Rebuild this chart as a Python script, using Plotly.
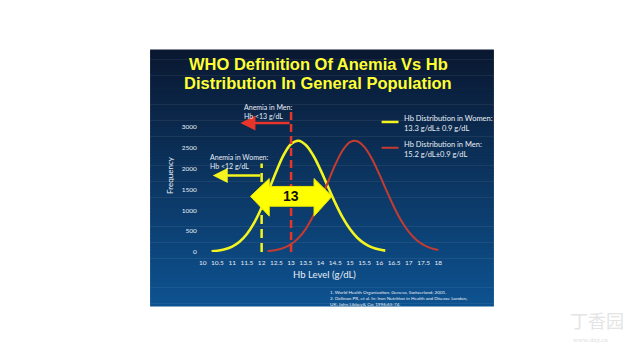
import plotly.graph_objects as go

# ---------------- data ----------------
women_hb = [10.3, 10.5, 10.75, 11, 11.25, 11.5, 11.75, 12, 12.25, 12.5, 12.75, 13, 13.25,
            13.5, 13.75, 14, 14.25, 14.5, 14.75, 15, 15.25, 15.5, 15.75, 16, 16.2]
women_freq = [14, 28, 62, 127, 243, 430, 703, 1065, 1494, 1938, 2330, 2592, 2669,
              2567, 2320, 1970, 1571, 1177, 828, 548, 340, 198, 109, 56, 31]

men_hb = [12.2, 12.5, 12.75, 13, 13.25, 13.5, 13.75, 14, 14.25, 14.5, 14.75, 15, 15.25,
          15.5, 15.75, 16, 16.25, 16.5, 16.75, 17, 17.25, 17.5, 17.75, 18]
men_freq = [17, 46, 96, 185, 331, 553, 860, 1243, 1672, 2091, 2434, 2635, 2657,
            2510, 2230, 1860, 1458, 1073, 742, 482, 294, 169, 91, 46]

x_ticks = [10, 10.5, 11, 11.5, 12, 12.5, 13, 13.5, 14, 14.5, 15, 15.5, 16, 16.5, 17, 17.5, 18]
y_ticks = [0, 500, 1000, 1500, 2000, 2500, 3000]

men_cutoff = 13
women_cutoff = 12
men_line_top = 3357
women_line_top = 2120
men_arrow_tip, men_arrow_y = 11.28, 3095
women_arrow_tip, women_arrow_y = 10.34, 1833
# big double arrow "13"
big_left, big_right = 11.62, 14.39
big_head_l, big_head_r = 12.26, 13.78
big_head_top, big_head_bot = 1762, 857
big_shaft_top, big_shaft_bot = 1571, 1095
big_mid = 1333

W, H = 640, 360
def px(x): return x / W
def py(y): return 1 - y / H

fig = go.Figure()

# slide background gradient (stripes)
shapes = []
top_c = (10, 24, 49)
bot_c = (13, 82, 144)
S_L, S_R, S_T, S_B = 147, 493, 50, 309
n = 80
for i in range(n):
    t = i / (n - 1)
    c = tuple(int(round(top_c[k] + (bot_c[k] - top_c[k]) * t)) for k in range(3))
    y0 = S_T + (S_B - S_T) * i / n
    y1 = S_T + (S_B - S_T) * (i + 1) / n + 0.6
    shapes.append(dict(type="rect", xref="paper", yref="paper", layer="below",
                       x0=px(S_L), x1=px(S_R), y0=py(min(y1, S_B)), y1=py(y0),
                       line=dict(width=0), fillcolor="rgb(%d,%d,%d)" % c))

YEL = "#f4f41e"
RED = "#c63b30"

fig.add_trace(go.Scatter(x=women_hb, y=women_freq, mode="lines", line=dict(color=YEL, width=2.6, shape="spline"),
                         cliponaxis=False, showlegend=False, hoverinfo="skip"))
fig.add_trace(go.Scatter(x=men_hb, y=men_freq, mode="lines", line=dict(color=RED, width=2, shape="spline"),
                         cliponaxis=False, showlegend=False, hoverinfo="skip"))

# dashed cutoff lines
shapes.append(dict(type="line", xref="x", yref="y", x0=men_cutoff, x1=men_cutoff, y0=0, y1=men_line_top,
                   line=dict(color="#e8352a", width=2.5, dash="8px,4px"), layer="above"))
shapes.append(dict(type="line", xref="x", yref="y", x0=women_cutoff, x1=women_cutoff, y0=0, y1=women_line_top,
                   line=dict(color=YEL, width=2.5, dash="9px,5px"), layer="above"))

# big double arrow
path = ("M {l},{m} L {hl},{ht} L {hl},{st} L {hr},{st} L {hr},{ht} L {r},{m} "
        "L {hr},{hb} L {hr},{sb} L {hl},{sb} L {hl},{hb} Z").format(
    l=big_left, m=big_mid, hl=big_head_l, ht=big_head_top, st=big_shaft_top,
    hr=big_head_r, r=big_right, hb=big_head_bot, sb=big_shaft_bot)
shapes.append(dict(type="path", xref="x", yref="y", path=path, fillcolor="#ffff00",
                   line=dict(color="#e6e600", width=1), layer="above"))

fig.update_layout(shapes=shapes)

ann = []
TXT = "#e9eef5"
FONT = "Lato"
ann.append(dict(x=men_cutoff, y=big_mid, xref="x", yref="y", text="<b>13</b>", showarrow=False,
                font=dict(family="Liberation Sans", size=14, color="#111111")))
# arrows
ann.append(dict(x=men_arrow_tip, y=men_arrow_y, ax=men_cutoff, ay=men_arrow_y, xref="x", yref="y",
                axref="x", ayref="y", text="", showarrow=True, arrowhead=2, arrowsize=1.2,
                arrowwidth=2.5, arrowcolor="#e8352a"))
ann.append(dict(x=women_arrow_tip, y=women_arrow_y, ax=women_cutoff, ay=women_arrow_y, xref="x", yref="y",
                axref="x", ayref="y", text="", showarrow=True, arrowhead=2, arrowsize=1.2,
                arrowwidth=2.5, arrowcolor=YEL))
# arrow labels
ann.append(dict(x=px(239), y=py(112), xref="paper", yref="paper", xanchor="left", yanchor="middle",
                text="Anemia in Men:<br>Hb <13 g/dL", showarrow=False, align="left",
                font=dict(family=FONT, size=7, color=TXT)))
ann.append(dict(x=px(205), y=py(163), xref="paper", yref="paper", xanchor="left", yanchor="middle",
                text="Anemia in Women:<br>Hb <12 g/dL", showarrow=False, align="left",
                font=dict(family=FONT, size=7, color=TXT)))
# legend
fig.add_shape(type="line", xref="paper", yref="paper", x0=px(380), x1=px(397), y0=py(123), y1=py(123),
              line=dict(color=YEL, width=2.5))
fig.add_shape(type="line", xref="paper", yref="paper", x0=px(380), x1=px(397), y0=py(149), y1=py(149),
              line=dict(color=RED, width=2))
ann.append(dict(x=px(401), y=py(125), xref="paper", yref="paper", xanchor="left", yanchor="middle",
                text="Hb Distribution in Women:<br>13.3 g/dL± 0.9 g/dL", showarrow=False, align="left",
                font=dict(family=FONT, size=7.5, color=TXT)))
ann.append(dict(x=px(401), y=py(151), xref="paper", yref="paper", xanchor="left", yanchor="middle",
                text="Hb Distribution in Men:<br>15.2 g/dL±0.9 g/dL", showarrow=False, align="left",
                font=dict(family=FONT, size=7.5, color=TXT)))
# title
ann.append(dict(x=px(316), y=py(65), xref="paper", yref="paper", xanchor="center", yanchor="middle",
                text="<b>WHO Definition Of Anemia Vs Hb</b>", showarrow=False,
                font=dict(family="Liberation Sans", size=16.5, color="#ffff33")))
ann.append(dict(x=px(316), y=py(84), xref="paper", yref="paper", xanchor="center", yanchor="middle",
                text="<b>Distribution In General Population</b>", showarrow=False,
                font=dict(family="Liberation Sans", size=16.5, color="#ffff33")))
# references
ann.append(dict(x=px(326), y=py(300), xref="paper", yref="paper", xanchor="left", yanchor="middle",
                text="1. World Health Organization. Geneva, Switzerland; 2001.<br>"
                     "2. Dallman PR, et al. In: Iron Nutrition in Health and Disease London,<br>"
                     "UK: John Libbey& Co; 1996:65-74.",
                showarrow=False, align="left", font=dict(family=FONT, size=4.6, color=TXT)))
# watermark
ann.append(dict(x=px(597), y=py(323), xref="paper", yref="paper", xanchor="center", yanchor="middle",
                text="丁香园", showarrow=False, font=dict(family="Noto Sans CJK SC", size=18, color="#e4e4e4")))
ann.append(dict(x=px(590), y=py(343), xref="paper", yref="paper", xanchor="center", yanchor="middle",
                text="www.dxy.cn", showarrow=False, font=dict(family="Liberation Serif", size=7, color="#dcdcdc")))

fig.update_layout(
    annotations=ann,
    width=W, height=H,
    margin=dict(l=0, r=0, t=0, b=0),
    paper_bgcolor="white",
    plot_bgcolor="rgba(0,0,0,0)",
    showlegend=False,
    xaxis=dict(domain=[px(200), px(445)], range=[10, 10 + 245 / 29.625],
               tickvals=x_ticks, ticktext=[("%g" % v) for v in x_ticks], showgrid=False, zeroline=False,
               showline=False, ticks="", ticklabelstandoff=6,
               tickfont=dict(family=FONT, size=6.5, color=TXT),
               title=dict(text="Hb Level (g/dL)", font=dict(family=FONT, size=9.5, color=TXT), standoff=5)),
    yaxis=dict(domain=[py(254), py(100)], range=[0, (254 - 100) / 42 * 1000],
               tickvals=y_ticks, showgrid=False, zeroline=False, showline=False, ticks="",
               ticklabelstandoff=5, tickfont=dict(family=FONT, size=6.5, color=TXT),
               title=dict(text="Frequency", font=dict(family=FONT, size=8, color=TXT), standoff=6)),
)

fig.write_html("out.html")
